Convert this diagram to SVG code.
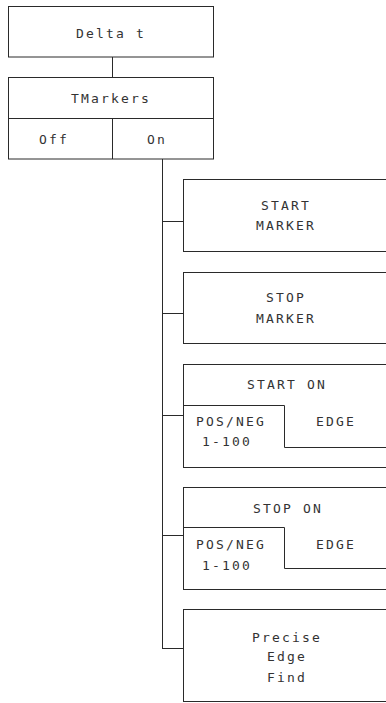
<svg xmlns="http://www.w3.org/2000/svg" width="386" height="703" viewBox="0 0 386 703">
<style>
.b{fill:none;stroke:#2a2a2a;stroke-width:1}
.c{fill:none;stroke:#2a2a2a;stroke-width:1}
text{font-family:"DejaVu Sans Mono","Liberation Mono",monospace;font-size:13px;letter-spacing:2.2px;fill:#333;text-anchor:middle}
</style>
<rect width="386" height="703" fill="#fff"/>
<g id="connectors">
<line class="c" x1="112.5" y1="57" x2="112.5" y2="77"/>
<line class="c" x1="162.5" y1="159" x2="162.5" y2="648.5"/>
<line class="c" x1="162" y1="221.5" x2="183" y2="221.5"/>
<line class="c" x1="162" y1="313.5" x2="183" y2="313.5"/>
<line class="c" x1="162" y1="415.5" x2="183" y2="415.5"/>
<line class="c" x1="162" y1="535.5" x2="183" y2="535.5"/>
<line class="c" x1="162" y1="648.5" x2="183" y2="648.5"/>
</g>
<g id="delta">
<rect class="b" x="8.5" y="6.5" width="205" height="50.5"/>
<text x="111" y="38">Delta t</text>
</g>
<g id="tmarkers">
<rect class="b" x="8.5" y="77.5" width="205" height="81.5"/>
<line class="b" x1="8.5" y1="118.5" x2="213.5" y2="118.5"/>
<line class="b" x1="112.5" y1="118.5" x2="112.5" y2="159"/>
<text x="111" y="103">TMarkers</text>
<text x="54" y="144">Off</text>
<text x="157" y="144">On</text>
</g>
<g id="startmarker">
<rect class="b" x="183.5" y="179.5" width="205" height="72"/>
<text x="286" y="210">START</text>
<text x="286" y="230">MARKER</text>
</g>
<g id="stopmarker">
<rect class="b" x="183.5" y="272.5" width="205" height="71"/>
<text x="286" y="302">STOP</text>
<text x="286" y="323">MARKER</text>
</g>
<g id="starton">
<rect class="b" x="183.5" y="364.5" width="205" height="103"/>
<polyline class="b" points="183.5,405.5 284.5,405.5 284.5,447.5 390,447.5"/>
<text x="287" y="389">START ON</text>
<text x="231" y="426">POS/NEG</text>
<text x="227" y="446">1-100</text>
<text x="336" y="426">EDGE</text>
</g>
<g id="stopon">
<rect class="b" x="183.5" y="487.5" width="205" height="102"/>
<polyline class="b" points="183.5,527.5 284.5,527.5 284.5,568.5 390,568.5"/>
<text x="288" y="513">STOP ON</text>
<text x="231" y="549">POS/NEG</text>
<text x="227" y="570">1-100</text>
<text x="336" y="549">EDGE</text>
</g>
<g id="precise">
<rect class="b" x="183.5" y="609.5" width="205" height="92"/>
<text x="287" y="642">Precise</text>
<text x="287" y="661">Edge</text>
<text x="287" y="682">Find</text>
</g>
</svg>
